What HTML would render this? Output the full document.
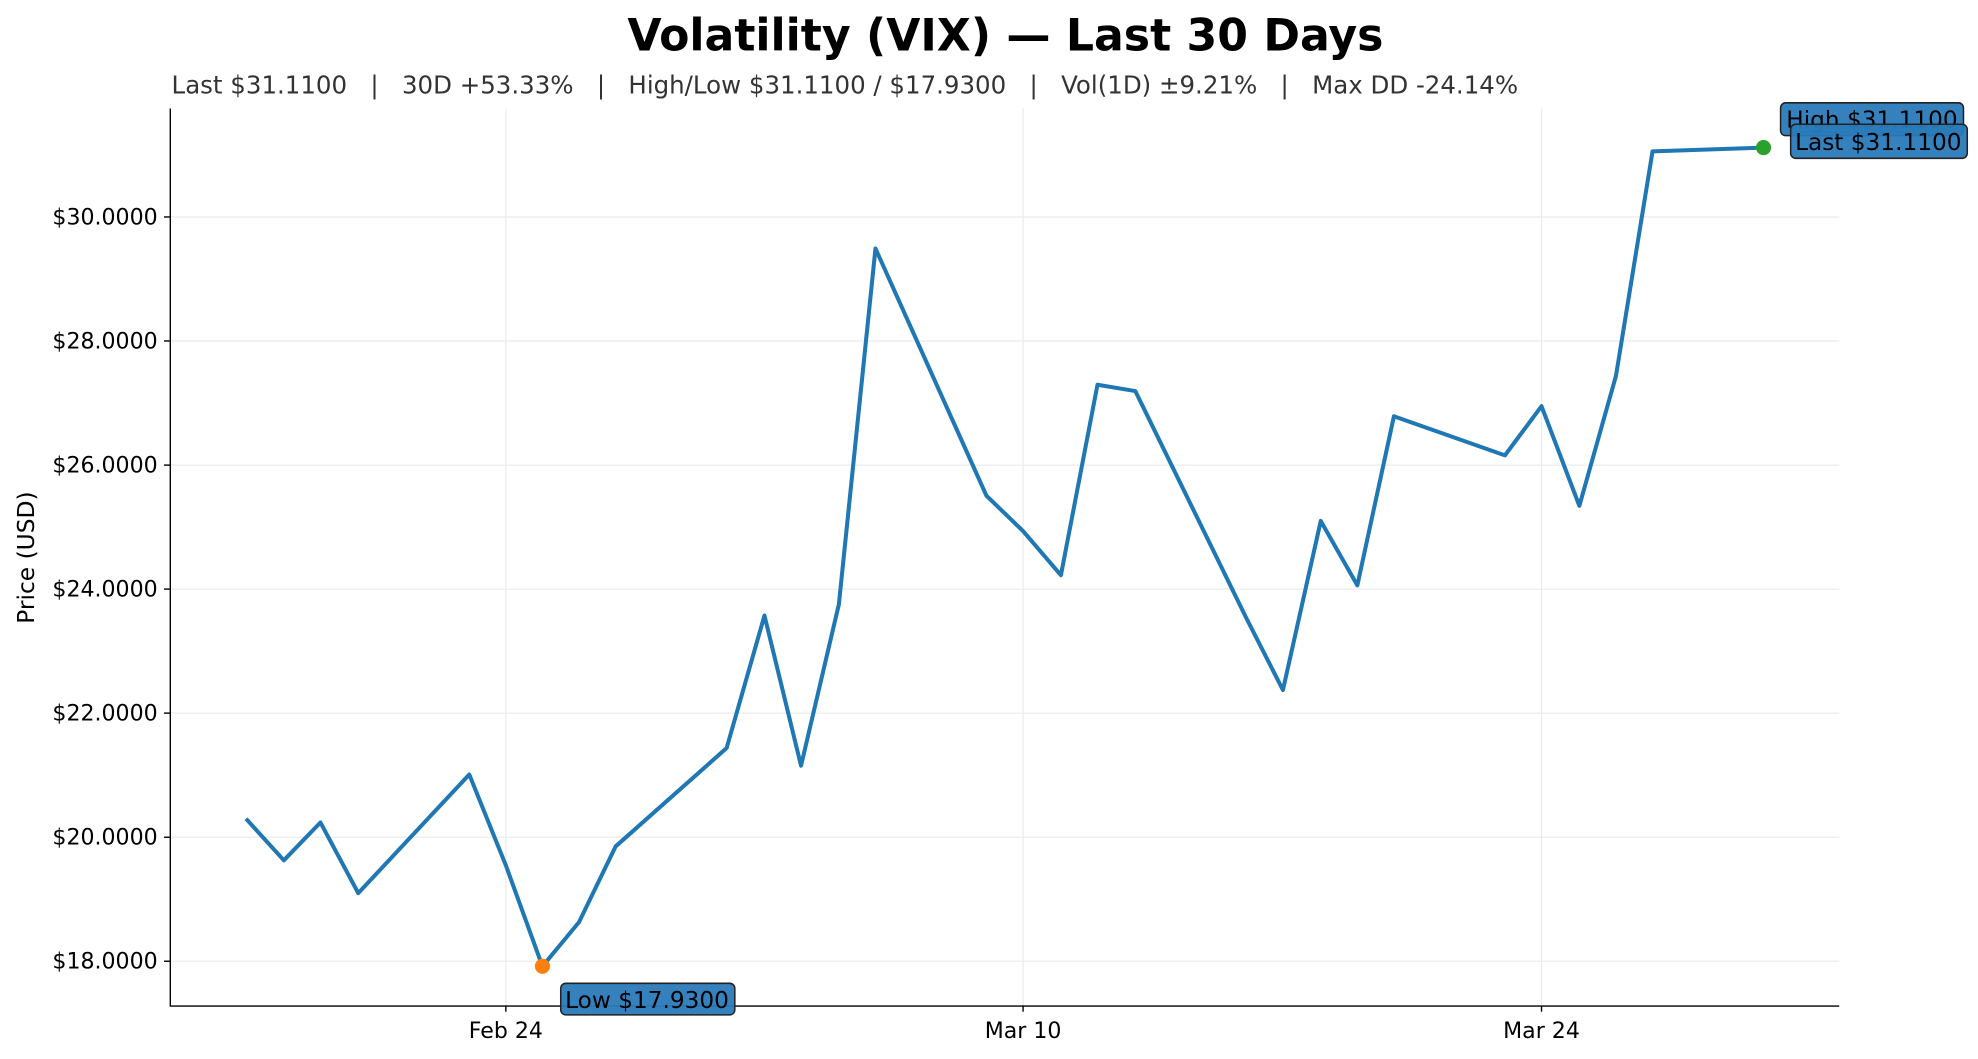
<!DOCTYPE html>
<html><head><meta charset="utf-8"><style>html,body{margin:0;padding:0;background:#fff}svg{display:block}</style></head>
<body>
<svg width="1978" height="1059" viewBox="0 0 1568 839.5" xmlns="http://www.w3.org/2000/svg" font-family="DejaVu Sans, Liberation Sans, sans-serif">
<rect width="1568" height="840" fill="#fff"/>
<g stroke="#ebebeb" stroke-width="1">
<line x1="135" x2="1458" y1="172" y2="172"/><line x1="135" x2="1458" y1="270.3" y2="270.3"/><line x1="135" x2="1458" y1="368.7" y2="368.7"/><line x1="135" x2="1458" y1="467" y2="467"/><line x1="135" x2="1458" y1="565.3" y2="565.3"/><line x1="135" x2="1458" y1="663.7" y2="663.7"/><line x1="135" x2="1458" y1="762" y2="762"/>
<line x1="401" x2="401" y1="86" y2="797"/><line x1="811" x2="811" y1="86" y2="797"/><line x1="1222" x2="1222" y1="86" y2="797"/>
</g>
<g stroke="#000" stroke-width="1.1">
<line x1="135" y1="86" x2="135" y2="797.5"/><line x1="134.5" y1="797.5" x2="1458" y2="797.5"/>
<line x1="130" x2="135" y1="172" y2="172"/><line x1="130" x2="135" y1="270.3" y2="270.3"/><line x1="130" x2="135" y1="368.7" y2="368.7"/><line x1="130" x2="135" y1="467" y2="467"/><line x1="130" x2="135" y1="565.3" y2="565.3"/><line x1="130" x2="135" y1="663.7" y2="663.7"/><line x1="130" x2="135" y1="762" y2="762"/>
<line x1="401" x2="401" y1="797" y2="802"/><line x1="811" x2="811" y1="797" y2="802"/><line x1="1222" x2="1222" y1="797" y2="802"/>
</g>
<g font-size="17.5" fill="#000" text-anchor="end">
<text x="125" y="177.8">$30.0000</text><text x="125" y="276.1">$28.0000</text><text x="125" y="374.5">$26.0000</text><text x="125" y="472.8">$24.0000</text><text x="125" y="571.1">$22.0000</text><text x="125" y="669.5">$20.0000</text><text x="125" y="767.8">$18.0000</text>
</g>
<g font-size="17.5" fill="#000" text-anchor="middle">
<text x="401" y="823">Feb 24</text><text x="811" y="823">Mar 10</text><text x="1222" y="823">Mar 24</text>
</g>
<text transform="translate(27,442) rotate(-90)" font-size="18.5" text-anchor="middle">Price (USD)</text>
<text x="797" y="40" font-size="35" font-weight="bold" text-anchor="middle">Volatility (VIX) — Last 30 Days</text>
<text x="136" y="74" font-size="19.4" fill="#333" xml:space="preserve">Last $31.1100   |   30D +53.33%   |   High/Low $31.1100 / $17.9300   |   Vol(1D) ±9.21%   |   Max DD -24.14%</text>
<polyline fill="none" stroke="#1f77b4" stroke-width="3.2" stroke-linejoin="round" points="195,649 225,682 254,652 284,708 372,614 401,686 430,766 459,731 488,671 576,593 606,488 635,607 665,479 694,197 782,393 811,421 841,456 870,305 900,310 988,490 1017,547 1047,413 1076,464 1105,330 1193,361 1222,322 1252,401 1281,298 1310,120 1398,117"/>
<circle cx="430" cy="766" r="6" fill="#ff7f0e"/>
<circle cx="1398" cy="117" r="6" fill="#2ca02c"/>
<g font-size="18.4" fill="#000">
<rect x="1411.5" y="81.5" width="145" height="26" rx="4" fill="#2a7ab9" fill-opacity="0.95" stroke="#222" stroke-width="1.2"/>
<text x="1416" y="101">High $31.1100</text>
<rect x="1419.5" y="98.5" width="140" height="27" rx="4" fill="#2a7ab9" fill-opacity="0.95" stroke="#222" stroke-width="1.2"/>
<text x="1423" y="119">Last $31.1100</text>
<rect x="444.5" y="779.5" width="138" height="25" rx="4" fill="#2a7ab9" fill-opacity="0.95" stroke="#222" stroke-width="1.2"/>
<text x="448" y="799">Low $17.9300</text>
</g>
</svg>
</body></html>
